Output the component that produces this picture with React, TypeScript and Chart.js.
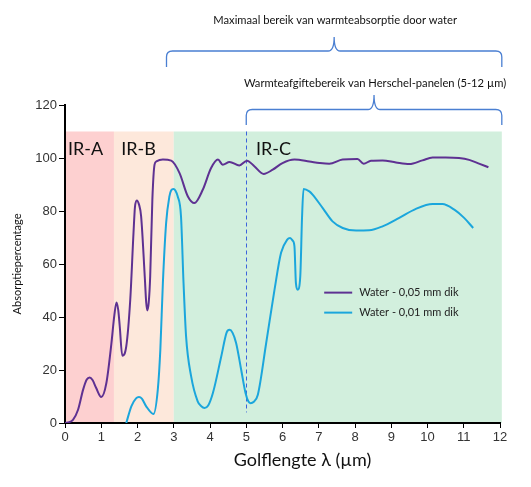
import React, { useEffect, useRef } from "react";
import { Chart, registerables } from "chart.js";

Chart.register(...registerables);

// ---- data ----
const purpleX = [0, 0.08, 0.22, 0.36, 0.5, 0.6, 0.68, 0.76, 0.86, 1.0, 1.14, 1.28, 1.36, 1.42, 1.47, 1.51, 1.58, 1.69, 1.8, 1.89, 1.93, 1.98, 2.04, 2.1, 2.2, 2.24, 2.27, 2.31, 2.35, 2.41, 2.47, 2.52, 2.7, 2.93, 3.16, 3.39, 3.57, 3.8, 4.03, 4.22, 4.35, 4.54, 4.81, 5.02, 5.23, 5.48, 5.73, 6.0, 6.33, 6.74, 7.02, 7.29, 7.66, 8.07, 8.24, 8.44, 8.76, 9.13, 9.5, 9.86, 10.14, 10.5, 10.87, 11.15, 11.42, 11.68];
const purpleY = [0, 0.2, 1.2, 5, 12.6, 16.4, 17.2, 16.2, 13.2, 9.8, 15, 30, 40.5, 45.5, 42.5, 36.5, 25.4, 28.9, 46.5, 71.8, 81.5, 84, 82.5, 78, 55.3, 45.5, 42.5, 45.5, 55.3, 84.3, 97.5, 98.7, 99.4, 99, 94.3, 85.5, 83, 88, 96.2, 99.4, 97.5, 98.5, 97.2, 99, 96.8, 94, 95.6, 98.1, 99.4, 98.7, 98.1, 97.8, 99.4, 99.6, 97.8, 99, 99.1, 98.3, 97.7, 99.1, 100.2, 100.2, 100, 99.3, 97.9, 96.5];

const cyanX = [1.69, 1.83, 1.96, 2.04, 2.12, 2.24, 2.44, 2.56, 2.63, 2.7, 2.79, 2.88, 2.93, 2.99, 3.05, 3.11, 3.2, 3.27, 3.34, 3.48, 3.66, 3.76, 3.85, 3.95, 4.08, 4.31, 4.46, 4.54, 4.62, 4.72, 4.86, 4.98, 5.06, 5.12, 5.2, 5.32, 5.55, 5.78, 5.96, 6.13, 6.21, 6.28, 6.33, 6.37, 6.42, 6.49, 6.54, 6.58, 6.74, 6.83, 7.11, 7.38, 7.66, 8.03, 8.39, 8.76, 9.22, 9.68, 10.14, 10.41, 10.74, 11.01, 11.26];
const cyanY = [0, 6.3, 9.3, 9.8, 9.2, 6.3, 3.4, 12.6, 27.7, 52.8, 75.5, 85.5, 87.8, 88.3, 87.6, 85.5, 78, 52.8, 32.7, 17.6, 8.2, 6.3, 5.7, 6.6, 11.3, 25.1, 34.2, 35.2, 34.1, 30.2, 20.1, 11.3, 8.1, 7.5, 7.9, 10.7, 30.2, 50.3, 64.2, 69.2, 69.8, 68.8, 66.6, 52.8, 50.3, 55.3, 78, 88.3, 87.4, 86.2, 81.1, 76.1, 73.6, 72.6, 72.7, 74.2, 77.4, 80.8, 82.6, 82.6, 80.5, 77.4, 73.6];

const seriesLabels = ["Water - 0,05 mm dik", "Water - 0,01 mm dik"];
const seriesColors = ["#5e3192", "#1ba6dc"];

const regionNames = ["IR-A", "IR-B", "IR-C"];
const regionStart = [0, 1.35, 3];
const regionEnd = [1.35, 3, 12.05];
const regionLabelX = [0.08, 1.55, 5.27];
const regionColors = ["#fdd0d0", "#fde8db", "#d2efdd"];
const regionTop = 110;

const markerX = 5;
const markerBottom = 4;

const bracketLabels = [
  "Maximaal bereik van warmteabsorptie door water",
  "Warmteafgiftebereik van Herschel-panelen (5-12 µm)",
];
const bracketStart = [2.8, 5];
const bracketEnd = [12.05, 12.05];

const xTitle = "Golflengte λ (µm)";
const yTitle = "Absorptiepercentage";

const LATO = "Lato, 'Open Sans', sans-serif";

function brace(ctx: CanvasRenderingContext2D, x0: number, x1: number, yEnd: number, yLine: number, yTip: number) {
  const cx = (x0 + x1) / 2;
  const r = 6;
  ctx.beginPath();
  ctx.moveTo(x0, yEnd);
  ctx.lineTo(x0, yLine + r);
  ctx.quadraticCurveTo(x0, yLine, x0 + r, yLine);
  ctx.lineTo(cx - r, yLine);
  ctx.quadraticCurveTo(cx, yLine, cx, yTip);
  ctx.quadraticCurveTo(cx, yLine, cx + r, yLine);
  ctx.lineTo(x1 - r, yLine);
  ctx.quadraticCurveTo(x1, yLine, x1, yLine + r);
  ctx.lineTo(x1, yEnd);
  ctx.stroke();
}

const decorPlugin = {
  id: "decor",
  beforeDraw(chart: any) {
    const { ctx, scales } = chart;
    const xs = scales.x, ys = scales.y;
    ctx.save();
    for (let i = 0; i < regionNames.length; i++) {
      const l = xs.getPixelForValue(regionStart[i]);
      const r = xs.getPixelForValue(regionEnd[i]);
      const t = ys.getPixelForValue(regionTop);
      const b = ys.getPixelForValue(0);
      ctx.fillStyle = regionColors[i];
      ctx.fillRect(l, t, r - l, b - t);
    }
    ctx.restore();
  },
  beforeDatasetsDraw(chart: any) {
    const { ctx, scales } = chart;
    const xs = scales.x, ys = scales.y;
    ctx.save();
    const mx = Math.round(xs.getPixelForValue(markerX)) + 0.5;
    ctx.strokeStyle = "#3d63dc";
    ctx.lineWidth = 1;
    ctx.setLineDash([4, 3]);
    ctx.beginPath();
    ctx.moveTo(mx, ys.getPixelForValue(regionTop));
    ctx.lineTo(mx, ys.getPixelForValue(markerBottom));
    ctx.stroke();
    ctx.setLineDash([]);
    ctx.fillStyle = "#111";
    ctx.font = `18px ${LATO}`;
    ctx.textAlign = "left";
    ctx.textBaseline = "alphabetic";
    const ly = ys.getPixelForValue(regionTop) + 23;
    for (let i = 0; i < regionNames.length; i++) {
      ctx.fillText(regionNames[i], xs.getPixelForValue(regionLabelX[i]), ly);
    }
    ctx.restore();
  },
  afterDraw(chart: any) {
    const { ctx, scales, chartArea } = chart;
    const xs = scales.x, ys = scales.y;
    const top = chartArea.top;
    ctx.save();
    ctx.strokeStyle = "#4a7fd2";
    ctx.lineWidth = 1.3;
    const braceY = [
      { end: top - 38, line: top - 54, tip: top - 68, text: top - 81 },
      { end: top + 20, line: top + 4.5, tip: top - 10, text: top - 18 },
    ];
    ctx.fillStyle = "#111";
    ctx.font = `11.2px ${LATO}`;
    ctx.textAlign = "center";
    ctx.textBaseline = "alphabetic";
    for (let i = 0; i < bracketLabels.length; i++) {
      const x0 = xs.getPixelForValue(bracketStart[i]);
      const x1 = xs.getPixelForValue(bracketEnd[i]);
      brace(ctx, x0, x1, braceY[i].end, braceY[i].line, braceY[i].tip);
      ctx.fillText(bracketLabels[i], (x0 + x1) / 2 + 1, braceY[i].text);
    }
    const lx = xs.getPixelForValue(7.15);
    const lyBase = ys.getPixelForValue(49.2);
    ctx.font = `11px ${LATO}`;
    ctx.textAlign = "left";
    ctx.textBaseline = "middle";
    chart.data.datasets.forEach((ds: any, i: number) => {
      const y = lyBase + i * 20;
      ctx.strokeStyle = ds.borderColor;
      ctx.lineWidth = 2;
      ctx.beginPath();
      ctx.moveTo(lx, y);
      ctx.lineTo(lx + 28, y);
      ctx.stroke();
      ctx.fillStyle = "#222";
      ctx.fillText(ds.label, lx + 35, y);
    });
    ctx.fillStyle = "#111";
    ctx.font = `18px ${LATO}`;
    ctx.textAlign = "center";
    ctx.textBaseline = "alphabetic";
    ctx.fillText(xTitle, (chartArea.left + chartArea.right) / 2 + 20, chartArea.bottom + 43);
    ctx.save();
    ctx.translate(17, (chartArea.top + chartArea.bottom) / 2);
    ctx.rotate(-Math.PI / 2);
    ctx.font = `11px ${LATO}`;
    ctx.textBaseline = "middle";
    ctx.fillText(yTitle, 0, 0);
    ctx.restore();
    ctx.restore();
  },
};

export default function App() {
  const ref = useRef<HTMLCanvasElement | null>(null);
  useEffect(() => {
    document.body.style.margin = "0";
    const canvas = ref.current!;
    const chart = new Chart(canvas, {
      type: "line",
      data: {
        datasets: [
          {
            label: seriesLabels[0],
            data: purpleX.map((x, i) => ({ x, y: purpleY[i] })),
            borderColor: seriesColors[0],
            borderWidth: 2,
            pointRadius: 0,
            fill: false,
            cubicInterpolationMode: "monotone",
          },
          {
            label: seriesLabels[1],
            data: cyanX.map((x, i) => ({ x, y: cyanY[i] })),
            borderColor: seriesColors[1],
            borderWidth: 2,
            pointRadius: 0,
            fill: false,
            cubicInterpolationMode: "monotone",
          },
        ],
      },
      options: {
        animation: false,
        responsive: false,
        layout: { padding: { top: 105, right: 31, left: 0, bottom: 0 } },
        plugins: { legend: { display: false }, tooltip: { enabled: false } },
        scales: {
          x: {
            type: "linear",
            min: 0,
            max: 12,
            ticks: { stepSize: 1, color: "#333", font: { family: "'Liberation Sans', Arial", size: 13 }, padding: 2 },
            grid: { drawOnChartArea: false, drawTicks: true, tickLength: 5, color: "#000" },
            border: { display: true, color: "#000", width: 2 },
            afterFit: (s: any) => { s.height = 64; },
          },
          y: {
            min: 0,
            max: 120,
            ticks: { stepSize: 20, color: "#333", font: { family: "'Liberation Sans', Arial", size: 13 }, padding: 2 },
            grid: { drawOnChartArea: false, drawTicks: true, tickLength: 6, color: "#000" },
            border: { display: true, color: "#000", width: 2 },
            afterFit: (s: any) => { s.width = 65; },
          },
        },
      } as any,
      plugins: [decorPlugin],
    });
    return () => chart.destroy();
  }, []);
  return <canvas ref={ref} width={531} height={487} style={{ display: "block" }} />;
}
